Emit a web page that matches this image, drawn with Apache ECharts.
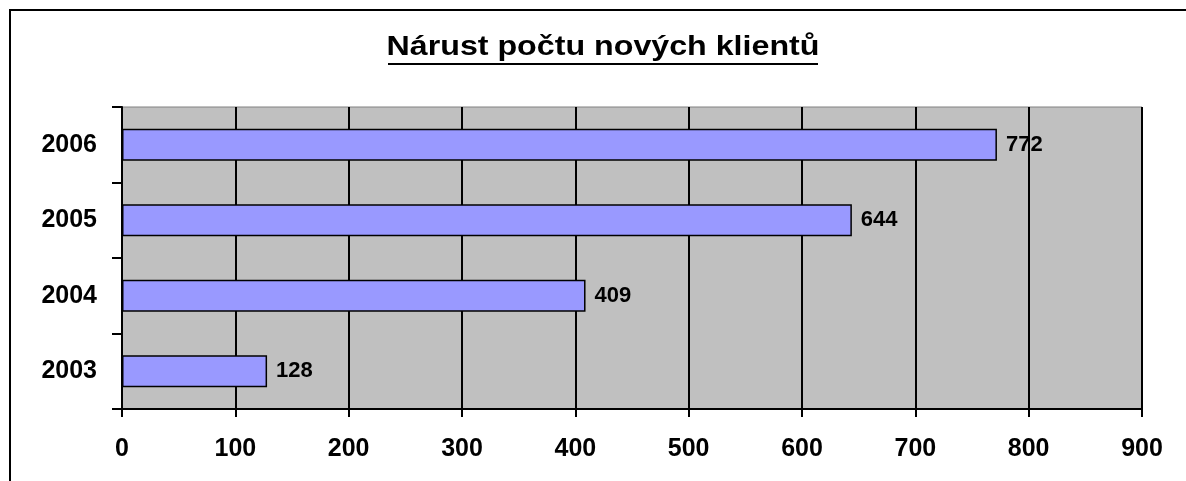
<!DOCTYPE html>
<html>
<head>
<meta charset="utf-8">
<script src="https://cdn.jsdelivr.net/npm/echarts@6/dist/echarts.min.js"></script>
<style>
  html, body { margin: 0; padding: 0; background: #fff; }
  #chart { width: 1186px; height: 481px; }
</style>
</head>
<body>
<div id="chart"></div>
<script>
const titleText = 'Nárust počtu nových klientů'
const years = ['2003', '2004', '2005', '2006']
const newClients = [128, 409, 644, 772]
const xTicks = { min: 0, max: 900, step: 100 }

const font = 'Liberation Sans'
const chart = echarts.init(document.getElementById('chart'))

chart.setOption({
  animation: false,
  backgroundColor: '#fff',
  graphic: [
    // outer chart frame (only left and top edges are visible in the crop)
    { type: 'rect', shape: { x: 10, y: 10, width: 1300, height: 600 }, style: { fill: 'none', stroke: '#000', lineWidth: 2 } },
    // title: the original text is a bit stretched horizontally
    {
      type: 'text', x: 603, y: 61, scaleX: 1.15,
      style: {
        text: titleText, fill: '#000', align: 'center', verticalAlign: 'bottom',
        font: 'bold 28px "Liberation Sans"'
      }
    },
    { type: 'line', shape: { x1: 388, y1: 64, x2: 818, y2: 64 }, style: { stroke: '#000', lineWidth: 2 } }
  ],
  grid: {
    left: 122, right: 44, top: 107, bottom: 72,
    show: true, backgroundColor: '#C0C0C0', borderColor: '#808080', borderWidth: 1
  },
  xAxis: {
    type: 'value',
    min: xTicks.min, max: xTicks.max, interval: xTicks.step,
    axisLine: { show: true, lineStyle: { color: '#000', width: 2 } },
    axisTick: { show: true, length: 8, lineStyle: { color: '#000', width: 2 } },
    splitLine: { show: true, lineStyle: { color: '#000', width: 2 } },
    axisLabel: { margin: 28, fontFamily: font, fontWeight: 'bold', fontSize: 25, color: '#000' }
  },
  yAxis: {
    type: 'category',
    data: years,
    axisLine: { show: true, lineStyle: { color: '#000', width: 2 } },
    axisTick: { show: true, length: 10, lineStyle: { color: '#000', width: 2 } },
    axisLabel: { margin: 25, fontFamily: font, fontWeight: 'bold', fontSize: 25, color: '#000', padding: [3, 0, 0, 0] }
  },
  series: [{
    type: 'bar',
    data: newClients,
    barWidth: 32,
    itemStyle: { color: '#9999FF', borderColor: '#000', borderWidth: 1.5 },
    label: {
      show: true, position: 'right', distance: 9,
      fontFamily: font, fontWeight: 'bold', fontSize: 22, color: '#000'
    }
  }]
})
</script>
</body>
</html>
